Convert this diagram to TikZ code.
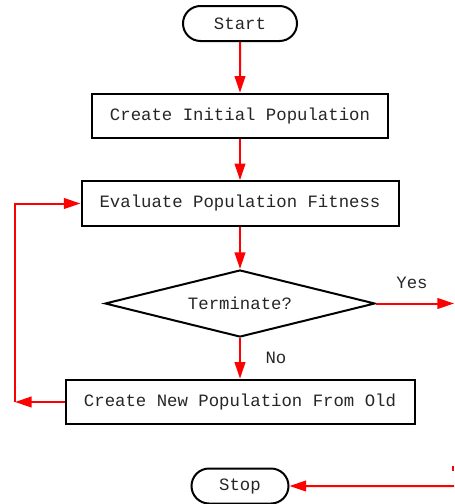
\documentclass[tikz,border=0pt]{standalone}
\usepackage{fontspec}
\setmonofont{Liberation Mono}
\usetikzlibrary{shapes}
\usetikzlibrary{arrows.meta}

\begin{document}
\begin{tikzpicture}[x = .75pt, y = -.75pt,
	every node/.style = {font = \ttfamily\fontsize{13}{15}\selectfont, text = black!85},
	term/.style = {draw = black, rounded rectangle, line width = 1.5pt, minimum width = 85.5pt, minimum height = 26.25pt, inner sep = 0pt},
	stepbox/.style = {draw = black, rectangle, line width = 1.5pt, minimum height = 33.5pt, inner sep = 0pt},
	check/.style = {draw = black, diamond, aspect = 4, line width = 1.5pt, minimum width = 202.5pt, minimum height = 50.25pt, inner sep = 0pt},
	flow/.style = {draw = red, line width = 1.5pt, -{Triangle[length = 12.5pt, width = 8pt]}}]

	\useasboundingbox (0,0) rectangle (454,504);

	% boxes
	\node [term] (start) at (240,23.5) {Start};
	\node [stepbox, minimum width = 222pt] (init) at (240,116) {Create Initial Population};
	\node [stepbox, minimum width = 237.75pt] (eval) at (240,203.5) {Evaluate Population Fitness};
	\node [check] (done) at (240,303.5) {Terminate?};
	\node [stepbox, minimum width = 261.75pt] (new) at (240,402) {Create New Population From Old};
	\node [term, minimum width = 72.75pt] (stop) at (240,486) {Stop};

	\node (yes) at (412,283) {Yes};
	\node (no) at (276,358) {No};

	\coordinate (yesend) at (454,303.5);
	\coordinate (back) at (15,402);
	\coordinate (stopin) at (454,486);
	\coordinate (tick) at (453,466);

	% arrows
	\draw [flow] (start) -- (init);
	\draw [flow] (init) -- (eval);
	\draw [flow] (eval) -- (done);
	\draw [flow] (done) -- (new);
	\draw [flow] (done.east) -- (yesend);
	\draw [flow] (new.west) -- (back);
	\draw [flow] (back) |- (eval.west);
	\draw [flow] (stopin) -- (stop);
	\draw [red, line width = 1.1pt] (tick) -- ++(0,5);

\end{tikzpicture}
\end{document}
